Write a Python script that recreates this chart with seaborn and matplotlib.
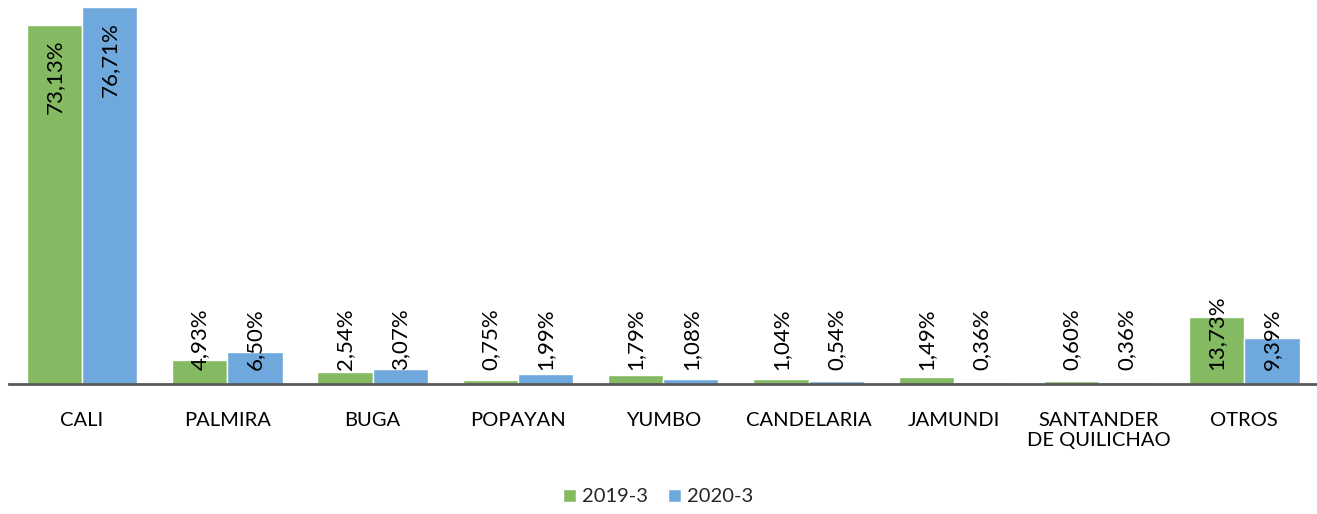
import matplotlib
matplotlib.use("Agg")
import matplotlib.pyplot as plt
import pandas as pd
import seaborn as sns

cities = ["CALI", "PALMIRA", "BUGA", "POPAYAN", "YUMBO", "CANDELARIA",
          "JAMUNDI", "SANTANDER\nDE QUILICHAO", "OTROS"]
share_2019 = [73.13, 4.93, 2.54, 0.75, 1.79, 1.04, 1.49, 0.60, 13.73]
share_2020 = [76.71, 6.50, 3.07, 1.99, 1.08, 0.54, 0.36, 0.36, 9.39]
periods = ["2019-3", "2020-3"]
colors = ["#84BA62", "#6FA8DC"]

df = pd.DataFrame({
    "city": cities * 2,
    "share": share_2019 + share_2020,
    "period": [periods[0]] * len(cities) + [periods[1]] * len(cities),
})

sns.set_style("white")
plt.rcParams["font.family"] = ["Lato", "DejaVu Sans"]

fig = plt.figure(figsize=(13.17, 5.14), dpi=100)
ax = fig.add_axes([0.0072, 0.2529, 0.9928, 0.745])

sns.barplot(data=df, x="city", y="share", hue="period", palette=colors,
            saturation=1, width=0.76, edgecolor="white", linewidth=1,
            ax=ax, legend=True)

ax.set_ylim(0, 78)
ax.set_xlim(-0.5, len(cities) - 0.5)
ax.set_xlabel("")
ax.set_ylabel("")
ax.set_yticks([])
for side in ["left", "right", "top"]:
    ax.spines[side].set_visible(False)
ax.spines["bottom"].set_color("#595959")
ax.spines["bottom"].set_linewidth(2)
ax.tick_params(axis="x", length=0, pad=20, labelsize=14.5, colors="black")

for container in ax.containers:
    for bar in container:
        val = bar.get_height()
        x = bar.get_x() + bar.get_width() / 2
        label = f"{val:.2f}%".replace(".", ",")
        if val > 20:
            ax.text(x, val - 3, label, rotation=90, ha="center", va="top",
                    fontsize=16, color="black")
        else:
            ax.text(x, 2.9, label, rotation=90, ha="center", va="bottom",
                    fontsize=16, color="black")

leg = ax.legend(loc="center", bbox_to_anchor=(0.496, -0.295), ncol=2,
                frameon=False, fontsize=14.5, handlelength=0.65,
                handleheight=0.65, handletextpad=0.3, columnspacing=1.0)

fig.savefig("out.png", dpi=100)
